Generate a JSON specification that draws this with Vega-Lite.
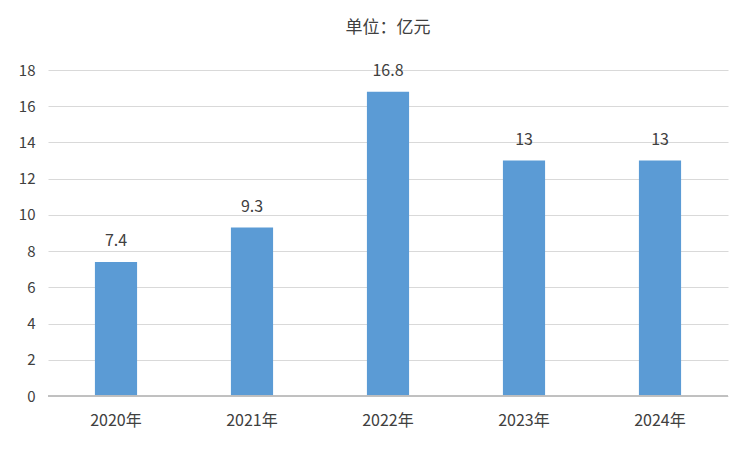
{
  "$schema": "https://vega.github.io/schema/vega-lite/v6.json",
  "width": 680,
  "height": 326,
  "autosize": {"type": "none"},
  "padding": {"left": 48, "top": 70, "right": 24, "bottom": 56},
  "background": "white",
  "title": {
    "text": "单位：亿元",
    "anchor": "middle",
    "offset": 26,
    "fontSize": 17,
    "fontWeight": "normal",
    "color": "#404040",
    "font": "Noto Sans CJK SC"
  },
  "data": {
    "values": [
      {"year": "2020年", "value": 7.4, "label": "7.4"},
      {"year": "2021年", "value": 9.3, "label": "9.3"},
      {"year": "2022年", "value": 16.8, "label": "16.8"},
      {"year": "2023年", "value": 13, "label": "13"},
      {"year": "2024年", "value": 13, "label": "13"}
    ]
  },
  "encoding": {
    "x": {
      "field": "year",
      "type": "nominal",
      "sort": null,
      "scale": {"paddingInner": 0.69, "paddingOuter": 0.345},
      "axis": {
        "title": null,
        "labelAngle": 0,
        "labelFontSize": 16,
        "labelColor": "#404040",
        "labelFont": "Noto Sans CJK SC",
        "labelPadding": 16,
        "ticks": false,
        "domain": false
      }
    },
    "y": {
      "field": "value",
      "type": "quantitative",
      "scale": {"domain": [0, 18]},
      "axis": {
        "title": null,
        "values": [0, 2, 4, 6, 8, 10, 12, 14, 16, 18],
        "labelFontSize": 15,
        "labelColor": "#404040",
        "labelFont": "Noto Sans CJK SC",
        "labelPadding": 13,
        "ticks": false,
        "domain": false,
        "gridColor": "#d9d9d9",
        "gridWidth": 1
      }
    }
  },
  "layer": [
    {"mark": {"type": "bar", "color": "#5b9bd5"}},
    {
      "mark": {"type": "rule", "color": "#bfbfbf", "strokeWidth": 1},
      "encoding": {"x": null, "y": {"datum": 0}}
    },
    {
      "mark": {"type": "text", "dy": -21, "fontSize": 16, "color": "#404040", "font": "Noto Sans CJK SC"},
      "encoding": {"text": {"field": "label"}}
    }
  ],
  "config": {"view": {"stroke": null}}
}
